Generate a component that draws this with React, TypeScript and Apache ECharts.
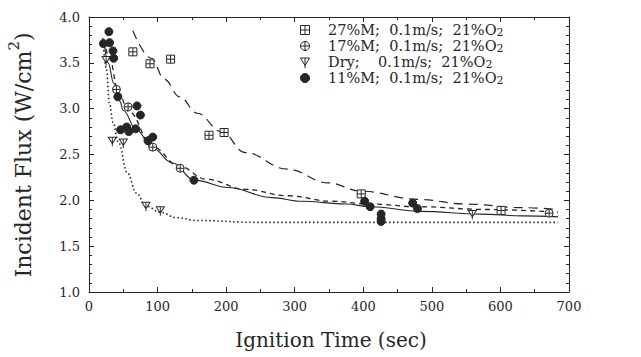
import React, { useEffect, useRef } from 'react';
import * as echarts from 'echarts';

// ---- data ----
const xTickValues = [0, 100, 200, 300, 400, 500, 600, 700];
const yTickValues = [1.0, 1.5, 2.0, 2.5, 3.0, 3.5, 4.0];

const legendLabels = ['27%M;  0.1m/s;  21%O', '17%M;  0.1m/s;  21%O', 'Dry;    0.1m/s;  21%O', '11%M;  0.1m/s;  21%O'];

// 27% moisture (boxed cross)
const m27X = [64, 89, 119, 175, 197, 397, 601];
const m27Y = [3.62, 3.49, 3.54, 2.71, 2.74, 2.07, 1.89];
// 17% moisture (circle cross)
const m17X = [40, 57, 93, 133, 671];
const m17Y = [3.21, 3.02, 2.58, 2.35, 1.86];
// Dry (triangle)
const dryX = [25, 34, 50, 83, 104, 559];
const dryY = [3.52, 2.64, 2.62, 1.93, 1.88, 1.84];
// 11% moisture (filled circle)
const m11X = [21, 29, 30, 35, 36, 42, 46, 55, 58, 68, 70, 75, 86, 93, 153, 402, 410, 426, 426, 426, 472, 479];
const m11Y = [3.71, 3.84, 3.72, 3.63, 3.55, 3.13, 2.77, 2.80, 2.75, 2.78, 3.03, 2.93, 2.65, 2.69, 2.22, 1.99, 1.93, 1.85, 1.80, 1.77, 1.97, 1.91];

// fitted curves
const fit27X = [64, 91, 110, 132, 158, 193, 228, 289, 349, 397, 480, 549, 632, 684];
const fit27Y = [3.85, 3.55, 3.32, 3.13, 2.95, 2.75, 2.52, 2.34, 2.19, 2.10, 2.01, 1.96, 1.92, 1.90];
const fit17X = [22, 30, 43, 58, 93, 132, 171, 228, 289, 354, 410, 480, 580, 684];
const fit17Y = [3.75, 3.55, 3.17, 2.97, 2.58, 2.37, 2.23, 2.12, 2.05, 1.99, 1.96, 1.93, 1.90, 1.87];
const fitDryX = [20, 25, 30, 35, 43, 56, 69, 83, 104, 128, 158, 245, 375, 684];
const fitDryY = [3.77, 3.45, 3.05, 2.85, 2.63, 2.30, 2.08, 1.94, 1.87, 1.81, 1.78, 1.76, 1.76, 1.76];
const fit11X = [22, 28, 36, 45, 50, 69, 93, 121, 154, 202, 267, 310, 375, 410, 484, 571, 632, 684];
const fit11Y = [3.72, 3.50, 3.28, 3.08, 2.98, 2.77, 2.57, 2.41, 2.22, 2.14, 2.03, 1.99, 1.96, 1.93, 1.88, 1.85, 1.83, 1.82];

const zip = (xs: number[], ys: number[]) => xs.map((x, i) => [x, ys[i]]);

const INK = '#262626';
const FONT = 'DejaVu Serif';

const SYM_BOX = 'path://M0,0H10V10H0Z M5,0V10 M0,5H10';
const SYM_CIRC = 'path://M10,5A5,5 0 1 1 0,5A5,5 0 1 1 10,5Z M5,0V10 M0,5H10';
const SYM_TRI = 'path://M0,0H10L5,8Z M5,0V11';

export default function App() {
  const ref = useRef<HTMLDivElement>(null);
  useEffect(() => {
    const chart = echarts.init(ref.current!, null, { renderer: 'svg' });
    const gridLeft = 89, gridTop = 17, gridW = 480, gridH = 275;

    const lineSeries = (name: string, xs: number[], ys: number[], type: any, width: number) => ({
      type: 'line', name, data: zip(xs, ys), smooth: 0.4, smoothMonotone: 'x',
      showSymbol: false, symbol: 'none', silent: true,
      lineStyle: { color: INK, width, type },
      z: 2,
    });
    const scatter = (name: string, xs: number[], ys: number[], symbol: string, size: any, fill: string) => ({
      type: 'scatter', name, data: zip(xs, ys), symbol, symbolSize: size,
      itemStyle: { color: fill, borderColor: INK, borderWidth: 1, opacity: 1 },
      z: 3,
    });

    const legendRowsY = [30, 46, 62, 78];
    const symX = 305;
    const legendGraphics: any[] = [];
    const sym = (i: number, y: number) => {
      const ls = { stroke: INK, lineWidth: 1 };
      const r = 4.5;
      if (i === 0) return [
        { type: 'rect', shape: { x: symX - r, y: y - r, width: 2 * r, height: 2 * r }, style: { fill: '#fff', ...ls } },
        { type: 'line', shape: { x1: symX, y1: y - r, x2: symX, y2: y + r }, style: ls },
        { type: 'line', shape: { x1: symX - r, y1: y, x2: symX + r, y2: y }, style: ls },
      ];
      if (i === 1) return [
        { type: 'circle', shape: { cx: symX, cy: y, r }, style: { fill: '#fff', ...ls } },
        { type: 'line', shape: { x1: symX, y1: y - r, x2: symX, y2: y + r }, style: ls },
        { type: 'line', shape: { x1: symX - r, y1: y, x2: symX + r, y2: y }, style: ls },
      ];
      if (i === 2) return [
        { type: 'polygon', shape: { points: [[symX - r, y - 4], [symX + r, y - 4], [symX, y + 3.5]] }, style: { fill: '#fff', ...ls } },
        { type: 'line', shape: { x1: symX, y1: y - 4, x2: symX, y2: y + 6 }, style: ls },
      ];
      return [{ type: 'circle', shape: { cx: symX, cy: y, r }, style: { fill: INK, stroke: INK } }];
    };
    legendLabels.forEach((lab, i) => {
      const y = legendRowsY[i];
      legendGraphics.push(...sym(i, y));
      legendGraphics.push({
        type: 'text', x: 328, y,
        style: {
          text: `{a|${lab}}{s|2}`,
          verticalAlign: 'middle', align: 'left',
          rich: {
            a: { fontFamily: FONT, fontSize: 14.5, fill: INK, color: INK, lineHeight: 15, verticalAlign: 'middle' },
            s: { fontFamily: FONT, fontSize: 11, fill: INK, color: INK, lineHeight: 15, verticalAlign: 'bottom', padding: [6, 0, 0, 0] },
          },
        },
      });
    });

    const axisCommon = {
      type: 'value',
      axisLine: { show: true, onZero: false, lineStyle: { color: INK, width: 1 } },
      splitLine: { show: false },
    };

    const option: any = {
      animation: false,
      backgroundColor: '#fff',
      grid: { left: gridLeft, top: gridTop, width: gridW, height: gridH, containLabel: false },
      xAxis: [
        {
          ...axisCommon, min: 0, max: 700, interval: 100, position: 'bottom',
          axisTick: { show: true, inside: true, length: 5, lineStyle: { color: INK } },
          minorTick: { show: true, splitNumber: 2, length: 3, lineStyle: { color: INK } },
          axisLabel: {
            fontFamily: FONT, fontSize: 13, color: INK, margin: 8,
            formatter: (v: number) => (xTickValues.includes(v) ? String(v) : ''),
          },
        },
        {
          ...axisCommon, min: 0, max: 700, interval: 100, position: 'top',
          axisTick: { show: true, inside: true, length: 5, lineStyle: { color: INK } },
          minorTick: { show: true, splitNumber: 2, length: 3, lineStyle: { color: INK } },
          axisLabel: { show: false },
        },
      ],
      yAxis: [
        {
          ...axisCommon, min: 1, max: 4, interval: 0.5, position: 'left',
          axisTick: { show: true, inside: true, length: 5, lineStyle: { color: INK } },
          minorTick: { show: true, splitNumber: 5, length: 3, lineStyle: { color: INK } },
          axisLabel: {
            fontFamily: FONT, fontSize: 13, color: INK, margin: 9,
            formatter: (v: number) => (yTickValues.some((t) => Math.abs(t - v) < 1e-9) ? v.toFixed(1) : ''),
          },
        },
        {
          ...axisCommon, min: 1, max: 4, interval: 0.5, position: 'right',
          axisTick: { show: true, inside: true, length: 5, lineStyle: { color: INK } },
          minorTick: { show: true, splitNumber: 5, length: 3, lineStyle: { color: INK } },
          axisLabel: { show: false },
        },
      ],
      series: [
        lineSeries('fit27', fit27X, fit27Y, [9, 6], 1.2),
        lineSeries('fit17', fit17X, fit17Y, [5, 4], 1.3),
        lineSeries('fitDry', fitDryX, fitDryY, [1.5, 2.5], 1.6),
        lineSeries('fit11', fit11X, fit11Y, 'solid', 1.1),
        scatter('27%M', m27X, m27Y, SYM_BOX, 8, '#fff'),
        scatter('17%M', m17X, m17Y, SYM_CIRC, 8, '#fff'),
        scatter('Dry', dryX, dryY, SYM_TRI, [8, 9], '#fff'),
        scatter('11%M', m11X, m11Y, 'circle', 8, INK),
      ],
      graphic: [
        ...legendGraphics,
        {
          type: 'text', x: 331, y: 340,
          style: { text: 'Ignition Time (sec)', fontFamily: FONT, fontSize: 20, fill: INK, align: 'center', verticalAlign: 'middle' },
        },
        {
          type: 'text', x: 20, y: 155, rotation: Math.PI / 2,
          style: {
            text: '{a|Incident Flux (W/cm}{s|2}{a|)}', align: 'center', verticalAlign: 'middle',
            rich: {
              a: { fontFamily: FONT, fontSize: 22, fill: INK, color: INK, lineHeight: 28, verticalAlign: 'bottom' },
              s: { fontFamily: FONT, fontSize: 15, fill: INK, color: INK, lineHeight: 28, verticalAlign: 'top' },
            },
          },
        },
      ],
    };
    chart.setOption(option);
    return () => chart.dispose();
  }, []);
  return <div ref={ref} style={{ position: 'fixed', left: 0, top: 0, width: 641, height: 357 }} />;
}
